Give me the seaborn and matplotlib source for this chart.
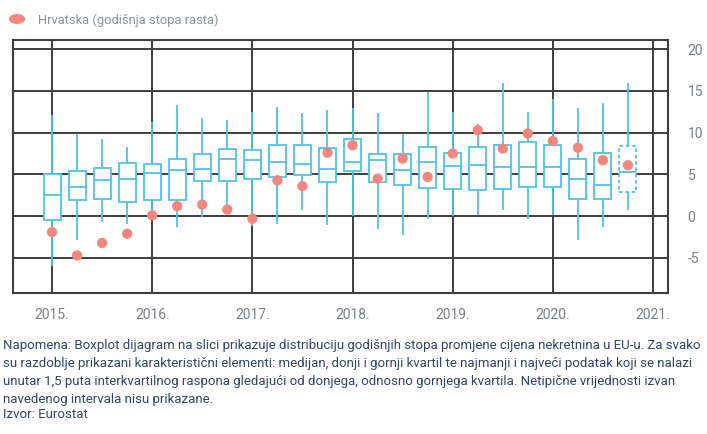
import numpy as np
import pandas as pd
import matplotlib
matplotlib.use("Agg")
import matplotlib.pyplot as plt
import seaborn as sns

# Quarterly periods, 2015 Q1 - 2020 Q4
years = [2015, 2016, 2017, 2018, 2019, 2020]
quarters = [1, 2, 3, 4]

# EU distribution of annual house price growth (%) per quarter
whisker_low = [-6.0, -2.9, -0.7, -0.9, 0.3, -1.3, -0.1, 0.5, -1.2, -0.9, 0.7, -1.1,
               0.0, -1.5, -2.3, -0.3, 0.0, 0.1, 0.7, -0.3, 0.1, -2.9, -1.3, 0.7]
q1 = [-0.5, 1.9, 2.0, 1.7, 1.9, 1.9, 4.2, 4.2, 4.4, 4.7, 4.9, 4.1,
      5.4, 4.1, 3.7, 3.4, 3.3, 3.1, 3.3, 3.5, 3.5, 2.0, 2.1, 2.9]
median = [2.5, 3.5, 4.3, 4.4, 5.2, 5.5, 5.7, 6.9, 6.7, 6.5, 6.3, 5.7,
          6.5, 6.7, 5.5, 6.5, 6.0, 6.1, 5.9, 5.9, 5.9, 4.4, 3.7, 5.3]
q3 = [5.0, 5.4, 5.8, 6.4, 6.3, 6.9, 7.5, 8.1, 7.9, 8.5, 8.5, 8.2,
      9.3, 7.5, 7.5, 8.3, 7.6, 8.3, 8.5, 8.9, 8.5, 6.8, 7.6, 8.4]
whisker_high = [12.1, 9.9, 9.3, 8.3, 11.3, 13.3, 11.7, 11.5, 12.5, 13.1, 12.3, 12.7,
                13.0, 12.3, 9.9, 14.9, 12.5, 11.0, 16.0, 12.5, 14.0, 12.9, 13.5, 16.0]

# Croatia, annual growth rate (%)
croatia = [-1.9, -4.7, -3.2, -2.1, 0.1, 1.2, 1.4, 0.8, -0.3, 4.3, 3.6, 7.6,
           8.5, 4.5, 6.9, 4.7, 7.5, 10.3, 8.1, 9.9, 9.0, 8.2, 6.7, 6.1]

year_ticks = [2015, 2016, 2017, 2018, 2019, 2020, 2021]
year_labels = ["2015.", "2016.", "2017.", "2018.", "2019.", "2020.", "2021."]
value_ticks = [-5, 0, 5, 10, 15, 20]
value_labels = ["-5", "0", "5", "10", "15", "20"]

legend_label = "Hrvatska (godišnja stopa rasta)"
note_lines = [
    "Napomena: Boxplot dijagram na slici prikazuje distribuciju godišnjih stopa promjene cijena nekretnina u EU-u. Za svako",
    "su razdoblje prikazani karakteristični elementi: medijan, donji i gornji kvartil te najmanji i najveći podatak koji se nalazi",
    "unutar 1,5 puta interkvartilnog raspona gledajući od donjega, odnosno gornjega kvartila. Netipične vrijednosti izvan",
    "navedenog intervala nisu prikazane.",
    "Izvor: Eurostat",
]

# Time position of every quarter (start of the quarter, in years)
positions = [y + (q - 1) / 4 for y in years for q in quarters]

# Long table: each quarter carries its five summary values,
# so the box edges and whisker ends fall exactly on them.
rows = []
for pos, lo, a, m, b, hi in zip(positions, whisker_low, q1, median, q3, whisker_high):
    for v in (lo, a, m, b, hi):
        rows.append({"pos": pos, "value": v})
box_df = pd.DataFrame(rows)
hr_df = pd.DataFrame({"pos": positions, "value": croatia})

sns.set_style("white")
plt.rcParams["font.family"] = ["Roboto", "DejaVu Sans"]

W, H = 707, 434
fig = plt.figure(figsize=(W / 100, H / 100), dpi=100)
ax = fig.add_axes([13 / W, 1 - 293 / H, (668 - 13) / W, (293 - 40) / H])

blue = "#52c2e6"
pink = "#f4867e"
grid_col = "#3e3e3e"

sns.boxplot(data=box_df, x="pos", y="value", native_scale=True, whis=(0, 100),
            width=0.68, color="white", linecolor=blue, linewidth=1.3,
            showcaps=False, showfliers=False, ax=ax)

# Last period is preliminary: dashed outline
box_patches = [p for p in ax.patches]
if box_patches:
    box_patches[-1].set_linestyle((0, (2, 1.5)))

sns.scatterplot(data=hr_df, x="pos", y="value", color=pink, s=55,
                edgecolor="none", zorder=5, ax=ax, legend=False)

ax.set_xlim(2014.61, 2021.15)
ax.set_ylim(-9.2, 21.1)
ax.set_xticks(year_ticks)
ax.set_xticklabels(year_labels)
ax.set_yticks(value_ticks)
ax.set_yticklabels(value_labels)
ax.yaxis.tick_right()
ax.tick_params(axis="both", length=0, labelsize=10, colors="#7a7f88")
ax.tick_params(axis="x", pad=11)
ax.tick_params(axis="y", pad=14)
ax.set_xlabel("")
ax.set_ylabel("")
ax.set_axisbelow(True)
ax.grid(True, color=grid_col, linewidth=1.4)
for s in ax.spines.values():
    s.set_visible(True)
    s.set_color(grid_col)
    s.set_linewidth(1.5)

# Legend entry above the plot
fig.patches.append(matplotlib.patches.Circle((17 / W, 1 - 19 / H), radius=5 / H,
                   transform=fig.transFigure, facecolor=pink, edgecolor="none"))
legend_txt = fig.text(38 / W, 1 - 20 / H, legend_label, fontsize=9.5,
                      color="#8c93a0", va="center")

# Footnote, first line scaled to span the figure width
note_y = [346, 364, 382, 400, 415]
note_texts = []
for txt, yy in zip(note_lines, note_y):
    note_texts.append(fig.text(3 / W, 1 - yy / H, txt, fontsize=9,
                               color="#33456b", va="center"))

fig.canvas.draw()
renderer = fig.canvas.get_renderer()
w0 = note_texts[0].get_window_extent(renderer).width
fs = 9 * 700 / w0
for t in note_texts:
    t.set_fontsize(fs)
lw = legend_txt.get_window_extent(renderer).width
legend_txt.set_fontsize(9.5 * 182 / lw)

fig.savefig("out.png", dpi=100)
